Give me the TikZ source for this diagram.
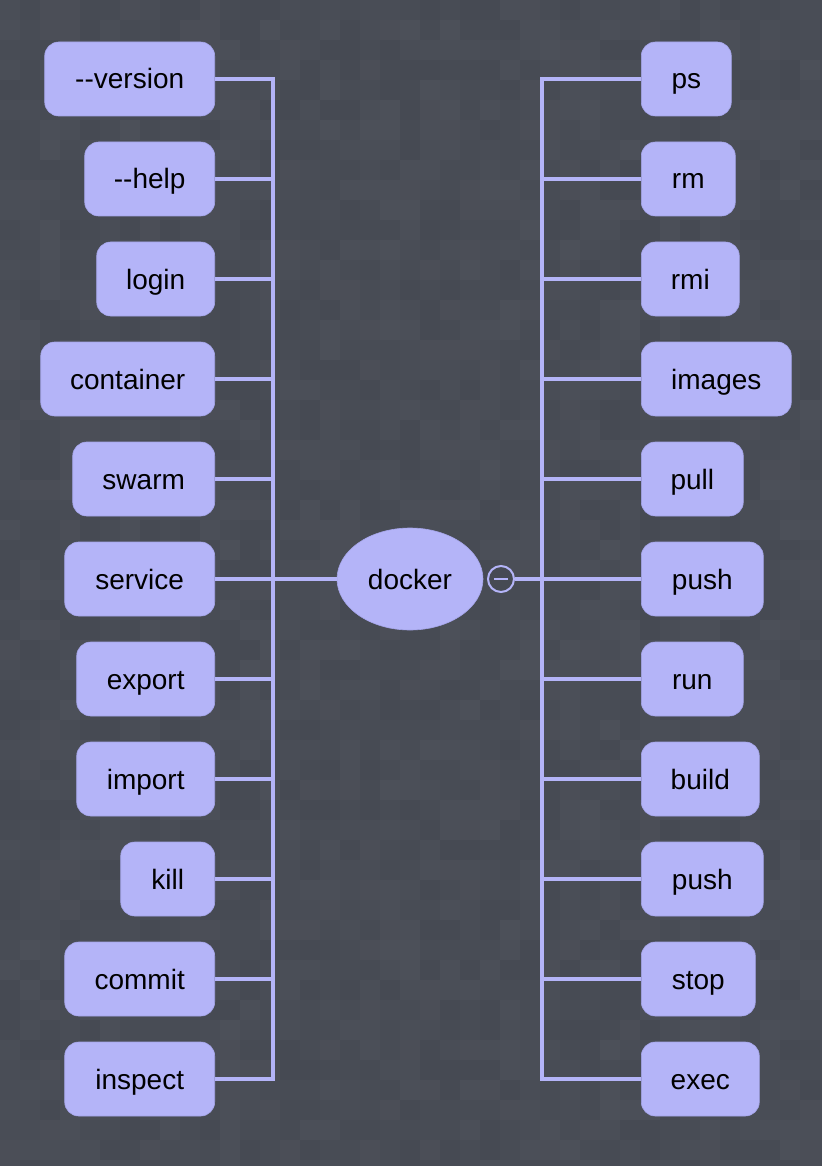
\documentclass[tikz,border=0pt]{standalone}
\usepackage{fontspec}
\setmainfont{Liberation Sans}[Ligatures=TeXOff]
\usepackage{tikz}
\usetikzlibrary{shapes.geometric}
\definecolor{bgback}{HTML}{464A53}
\definecolor{lav}{HTML}{B4B4F8}
\definecolor{lavedge}{HTML}{A4A4E8}

\begin{document}
\begin{tikzpicture}[x=1pt,y=-1pt, inner sep=0pt,
  cmd/.style={rectangle, rounded corners=14pt, fill=lav, draw=lavedge, line width=0.6pt,
    minimum height=74pt, text height=24pt, text depth=4pt, font=\fontsize{28}{30}\selectfont},
  link/.style={draw=lav, line width=3.4pt}]
\useasboundingbox (0,0) rectangle (822,1166);
\fill[bgback] (0,0) rectangle (822,1166);
\pgfmathsetseed{11}
\foreach \i in {0,...,41} {
  \foreach \j in {0,...,58} {
    \pgfmathsetmacro\op{rnd*0.035}
    \fill[white, opacity=\op] (\i*20,\j*20) rectangle ++(20,20);
  }
}
% root
\node (docker) at (410,579) [ellipse, fill=lav, draw=lavedge, line width=0.6pt,
  minimum width=146pt, minimum height=102pt, text height=24pt, text depth=4pt,
  font=\fontsize{28}{30}\selectfont] {docker};
\node (fold) at (501,579) [circle, minimum size=26pt, draw=lav, line width=2pt, fill=bgback] {};
\draw[draw=lav, line width=1.6pt] ([xshift=-7pt]fold.center) -- ([xshift=7pt]fold.center);
\coordinate (lbus) at (273,579);
\coordinate (rbus) at (542,579);
% left side
\node (version) at (215,79) [cmd, anchor=east, minimum width=170pt] {--version};
\node (help) at (215,179) [cmd, anchor=east, minimum width=130pt] {--help};
\node (login) at (215,279) [cmd, anchor=east, minimum width=118pt] {login};
\node (container) at (215,379) [cmd, anchor=east, minimum width=174pt] {container};
\node (swarm) at (215,479) [cmd, anchor=east, minimum width=142pt] {swarm};
\node (service) at (215,579) [cmd, anchor=east, minimum width=150pt] {service};
\node (export) at (215,679) [cmd, anchor=east, minimum width=138pt] {export};
\node (import) at (215,779) [cmd, anchor=east, minimum width=138pt] {import};
\node (kill) at (215,879) [cmd, anchor=east, minimum width=94pt] {kill};
\node (commit) at (215,979) [cmd, anchor=east, minimum width=150pt] {commit};
\node (inspect) at (215,1079) [cmd, anchor=east, minimum width=150pt] {inspect};
% right side
\node (ps) at (641,79) [cmd, anchor=west, minimum width=90pt] {ps};
\node (rm) at (641,179) [cmd, anchor=west, minimum width=94pt] {rm};
\node (rmi) at (641,279) [cmd, anchor=west, minimum width=98pt] {rmi};
\node (images) at (641,379) [cmd, anchor=west, minimum width=150pt] {images};
\node (pull) at (641,479) [cmd, anchor=west, minimum width=102pt] {pull};
\node (push) at (641,579) [cmd, anchor=west, minimum width=122pt] {push};
\node (run) at (641,679) [cmd, anchor=west, minimum width=102pt] {run};
\node (build) at (641,779) [cmd, anchor=west, minimum width=118pt] {build};
\node (pushb) at (641,879) [cmd, anchor=west, minimum width=122pt] {push};
\node (stop) at (641,979) [cmd, anchor=west, minimum width=114pt] {stop};
\node (exec) at (641,1079) [cmd, anchor=west, minimum width=118pt] {exec};
% connectors
\foreach \n in {version,help,login,container,swarm,service,export,import,kill,commit,inspect}
  \draw[link] (\n.east) -| (lbus);
\foreach \n in {ps,rm,rmi,images,pull,push,run,build,pushb,stop,exec}
  \draw[link] (\n.west) -| (rbus);
\draw[link] (lbus) -- (docker);
\draw[link] (fold) -- (rbus);
\end{tikzpicture}
\end{document}
